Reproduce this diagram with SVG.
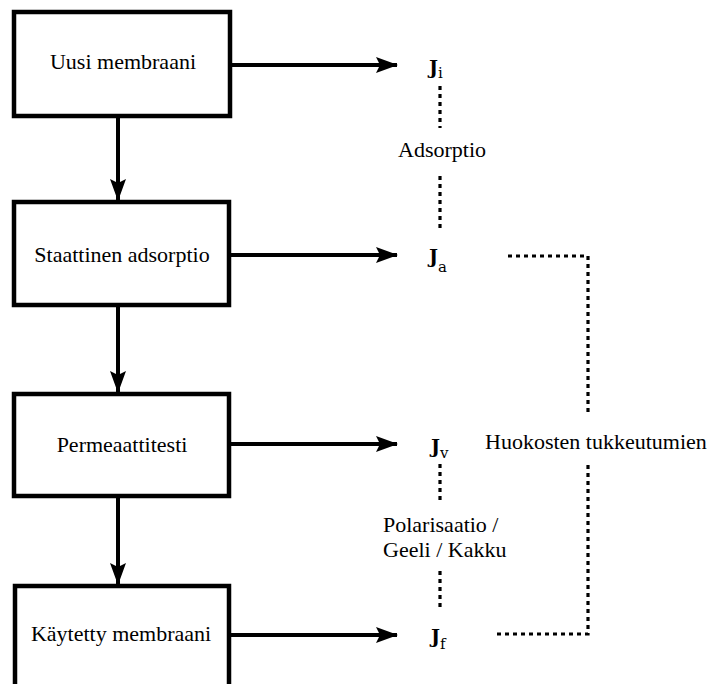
<svg xmlns="http://www.w3.org/2000/svg" width="719" height="684" viewBox="0 0 719 684">
<style>
.box{fill:#fff;stroke:#000;stroke-width:4.5}
.lbl{font-size:22px;fill:#000}
.j{font-size:19px;fill:#000;font-weight:bold}
.sub{font-size:15px;font-weight:normal}
.ln{stroke:#000;stroke-width:4;fill:none}
.dot{stroke:#000;stroke-width:3.2;fill:none;stroke-dasharray:4 4}
</style>
<defs>
<marker id="ah" markerUnits="userSpaceOnUse" markerWidth="22" markerHeight="16" refX="21" refY="8" orient="auto">
<path d="M0,0 L22,8 L0,16 L4,8 Z" fill="#000"/>
</marker>
</defs>
<rect width="719" height="684" fill="#fff"/>
<g id="connectors">
<line class="ln" x1="118" y1="116" x2="118" y2="200" marker-end="url(#ah)"/>
<line class="ln" x1="118" y1="306" x2="118" y2="392" marker-end="url(#ah)"/>
<line class="ln" x1="118" y1="497" x2="118" y2="584" marker-end="url(#ah)"/>
<line class="ln" x1="230" y1="65" x2="397" y2="65" marker-end="url(#ah)"/>
<line class="ln" x1="230" y1="255" x2="397" y2="255" marker-end="url(#ah)"/>
<line class="ln" x1="230" y1="444" x2="397" y2="444" marker-end="url(#ah)"/>
<line class="ln" x1="230" y1="635" x2="397" y2="635" marker-end="url(#ah)"/>
<line class="dot" x1="440" y1="86" x2="440" y2="128"/>
<line class="dot" x1="440" y1="176" x2="440" y2="231"/>
<line class="dot" x1="440" y1="464" x2="440" y2="503"/>
<line class="dot" x1="440" y1="571" x2="440" y2="611"/>
<polyline class="dot" points="508,256 588,256 588,416"/>
<polyline class="dot" points="497,634 588,634 588,463"/>
</g>
<g font-family="Liberation Serif, Times New Roman, serif">
<g id="n1">
<rect class="box" x="14" y="12" width="216" height="104"/>
<text class="lbl" x="123" y="69" text-anchor="middle">Uusi membraani</text>
</g>
<g id="n2">
<rect class="box" x="14" y="202" width="215" height="103"/>
<text class="lbl" x="122" y="262" text-anchor="middle">Staattinen adsorptio</text>
</g>
<g id="n3">
<rect class="box" x="14" y="394" width="215" height="102"/>
<text class="lbl" x="122" y="452" text-anchor="middle">Permeaattitesti</text>
</g>
<g id="n4">
<rect class="box" x="15" y="586" width="214" height="110"/>
<text class="lbl" x="121" y="641" text-anchor="middle">Käytetty membraani</text>
</g>
<g id="t-adsorptio"><text class="lbl" x="442" y="157" text-anchor="middle">Adsorptio</text></g>
<g id="t-pol"><text class="lbl" x="383" y="532">Polarisaatio /</text><text class="lbl" x="383" y="557">Geeli / Kakku</text></g>
<g id="t-huok"><text class="lbl" x="485" y="449">Huokosten tukkeutumien</text></g>
</g>
<g font-family="DejaVu Serif, serif">
<g id="ji"><text class="j" x="429" y="74">J<tspan class="sub" dy="4">i</tspan></text></g>
<g id="ja"><text class="j" x="429" y="263">J<tspan class="sub" dy="9">a</tspan></text></g>
<g id="jv"><text class="j" x="431" y="453">J<tspan class="sub" dy="5">v</tspan></text></g>
<g id="jf"><text class="j" x="431" y="643">J<tspan class="sub" dy="6">f</tspan></text></g>
</g>
</svg>
